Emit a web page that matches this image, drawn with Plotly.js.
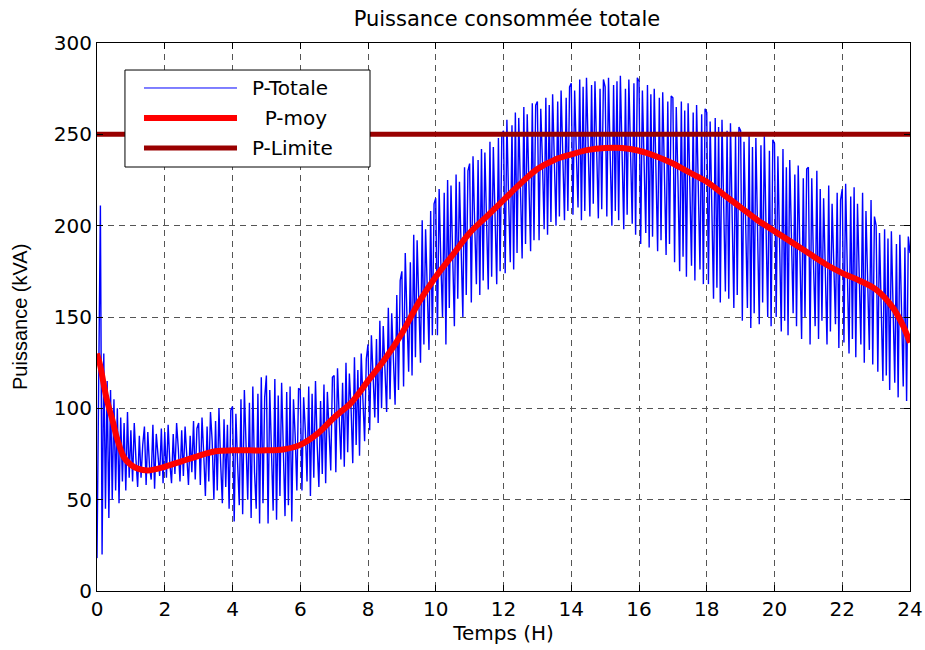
<!DOCTYPE html>
<html>
<head>
<meta charset="utf-8">
<script src="https://cdn.plot.ly/plotly-3.0.1.min.js"></script>
<style>html,body{margin:0;padding:0;background:#fff;}#chart{width:925px;height:650px;}</style>
</head>
<body>
<div id="chart"></div>
<script>
// P-Totale samples, one every 0.05 h (20 per hour)
const sampleStep = 0.05;
const pTotale = [
  18, 120, 211, 20, 130, 45, 115, 40, 110, 50, 105, 55, 100, 48, 95, 60, 92, 55, 98, 62,
  88, 60, 92, 72, 57, 85, 62, 80, 90, 58, 87, 68, 61, 91, 56, 86, 75, 63, 89, 59,
  87, 62, 91, 70, 59, 86, 64, 92, 78, 60, 88, 63, 90, 72, 58, 85, 65, 93, 61, 89,
  92, 58, 95, 75, 52, 90, 60, 98, 82, 50, 93, 55, 100, 70, 48, 94, 57, 91, 45, 99,
  101, 38, 97, 70, 47, 105, 42, 110, 85, 50, 103, 40, 112, 65, 45, 108, 37, 117, 48, 106,
  118, 37, 110, 80, 44, 116, 39, 107, 52, 114, 72, 41, 109, 47, 112, 38, 105, 85, 55, 111,
  110, 55, 106, 88, 60, 112, 52, 108, 62, 115, 80, 57, 104, 64, 113, 59, 109, 90, 66, 117,
  118, 65, 122, 95, 72, 114, 68, 125, 76, 119, 100, 70, 128, 80, 121, 74, 130, 105, 82, 127,
  135, 88, 140, 118, 95, 138, 92, 148, 100, 145, 125, 98, 155, 105, 152, 130, 102, 162, 110, 170,
  175, 112, 185, 150, 120, 180, 118, 195, 128, 192, 160, 125, 203, 135, 198, 170, 132, 208, 140, 212,
  215, 140, 220, 180, 150, 218, 135, 225, 155, 222, 190, 145, 228, 160, 224, 185, 150, 232, 162, 230,
  234, 158, 238, 200, 168, 236, 162, 242, 170, 240, 205, 165, 246, 172, 243, 210, 168, 248, 175, 250,
  252, 174, 258, 215, 180, 255, 176, 262, 185, 259, 225, 182, 265, 190, 261, 230, 186, 267, 192, 266,
  268, 192, 264, 235, 198, 270, 195, 266, 202, 272, 240, 200, 268, 205, 274, 238, 203, 270, 208, 276,
  278, 206, 274, 240, 210, 280, 203, 276, 208, 281, 245, 205, 277, 212, 279, 242, 204, 275, 209, 280,
  276, 205, 281, 238, 200, 277, 208, 279, 203, 282, 245, 198, 275, 206, 280, 235, 201, 278, 195, 281,
  279, 190, 274, 235, 196, 277, 188, 272, 194, 275, 230, 186, 270, 192, 273, 228, 184, 268, 190, 271,
  270, 180, 265, 225, 175, 268, 183, 263, 172, 267, 220, 178, 262, 170, 266, 215, 176, 261, 168, 264,
  262, 168, 257, 210, 160, 259, 166, 254, 158, 258, 205, 164, 252, 160, 256, 200, 155, 250, 162, 254,
  252, 148, 246, 200, 155, 250, 144, 243, 152, 248, 195, 146, 244, 158, 249, 190, 150, 241, 145, 247,
  245, 150, 238, 190, 142, 242, 148, 232, 140, 236, 185, 152, 228, 145, 233, 180, 138, 226, 150, 231,
  232, 135, 226, 180, 145, 230, 138, 220, 148, 215, 175, 135, 222, 142, 212, 170, 146, 218, 133, 214,
  220, 136, 223, 175, 130, 216, 138, 221, 128, 212, 170, 135, 218, 125, 208, 165, 132, 214, 124, 205,
  200, 120, 196, 155, 115, 198, 118, 193, 110, 197, 150, 114, 190, 106, 195, 145, 112, 188, 104, 194,
  185
];

// P-moy (smoothed mean)
const moyT = [0, 0.1, 0.2, 0.3, 0.45, 0.6, 0.8, 1.0, 1.2, 1.5, 1.8, 2.0, 2.5, 3.0, 3.5, 4.0, 4.5, 5.0, 5.5, 6.0, 6.5, 7.0, 7.5, 8.0, 8.5, 9.0, 9.5, 10.0, 10.5, 11.0, 11.5, 12.0, 12.5, 13.0, 13.5, 14.0, 14.5, 15.0, 15.5, 16.0, 16.5, 17.0, 17.5, 18.0, 18.5, 19.0, 19.5, 20.0, 20.5, 21.0, 21.5, 22.0, 22.5, 23.0, 23.5, 23.8, 24.0];
const moyV = [130, 123, 113, 104, 94, 83, 73, 69, 67, 66, 67, 68, 71, 74, 76.5, 77, 77, 77, 77.5, 80, 86, 95, 103, 115, 127, 141, 158, 172, 184, 196, 205, 214, 223, 231, 236, 239, 241.5, 242.5, 242.5, 241, 238, 234, 229, 224, 217, 210, 203, 197, 191, 185, 179, 174, 170, 165, 155, 145, 136];

// P-Limite
const limT = [0, 24];
const limV = [250, 250];

const legendNames = ["P-Totale", " P-moy", "P-Limite"];
const xTicks = [0, 2, 4, 6, 8, 10, 12, 14, 16, 18, 20, 22, 24];
const yTicks = [0, 50, 100, 150, 200, 250, 300];

const totT = pTotale.map((_, i) => +(i * sampleStep).toFixed(2));

const FONT = "DejaVu Sans, Arial, sans-serif";
const cBlue = "#0000ff", cRed = "#ff0000", cDark = "#990000";

const traces = [
  {x: totT, y: pTotale, type: "scatter", mode: "lines", line: {color: cBlue, width: 1.4}, name: legendNames[0], hoverinfo: "skip"},
  {x: moyT, y: moyV, type: "scatter", mode: "lines", line: {color: cRed, width: 6, shape: "spline", smoothing: 1}, name: legendNames[1]},
  {x: limT, y: limV, type: "scatter", mode: "lines", line: {color: cDark, width: 5}, name: legendNames[2]}
];

// legend box in paper coordinates
const lx0 = 0.0344, lx1 = 0.3358, ly0 = 0.7737, ly1 = 0.9507;
const sx0 = 0.0578, sx1 = 0.1722;
const rowY = [0.9179, 0.8631, 0.8084];
const rowColor = [cBlue, cRed, cDark];
const rowWidth = [1, 6, 5];
const textX = [0.1882, 0.1882, 0.1882];

const shapes = [{type: "rect", xref: "paper", yref: "paper", x0: lx0, x1: lx1, y0: ly0, y1: ly1,
  fillcolor: "#ffffff", line: {color: "#000000", width: 1}, layer: "above"}];
const annotations = [];
for (let i = 0; i < 3; i++) {
  shapes.push({type: "line", xref: "paper", yref: "paper", x0: sx0, x1: sx1, y0: rowY[i], y1: rowY[i],
    line: {color: rowColor[i], width: rowWidth[i]}, layer: "above"});
  annotations.push({xref: "paper", yref: "paper", x: textX[i], y: rowY[i], xanchor: "left", yanchor: "middle",
    text: legendNames[i].replace(" ", "&nbsp;&nbsp;"), showarrow: false, font: {family: FONT, size: 20, color: "#000"}});
}
// y-axis title
annotations.push({xref: "paper", yref: "paper", x: -0.0947, y: 0.5, xanchor: "center", yanchor: "middle",
  textangle: -90, text: "Puissance (kVA)", showarrow: false,
  font: {family: "Liberation Sans, Arial, sans-serif", size: 20, color: "#000"}});

const axisCommon = {
  showline: true, linecolor: "#000", linewidth: 1, mirror: "ticks",
  ticks: "inside", ticklen: 6, tickcolor: "#000", tickwidth: 1,
  showgrid: true, gridcolor: "#555", gridwidth: 1, griddash: "6px,5px",
  zeroline: false, tickfont: {family: FONT, size: 20, color: "#000"}
};

const layout = {
  width: 925, height: 650,
  margin: {l: 97, r: 15, t: 43, b: 59},
  paper_bgcolor: "#fff", plot_bgcolor: "#fff",
  showlegend: false,
  title: {text: "Puissance consommée totale", font: {family: FONT, size: 21, color: "#000"},
    x: 0.548, xanchor: "center", y: 1 - 19 / 650, yanchor: "middle", yref: "container"},
  xaxis: Object.assign({}, axisCommon, {range: [0, 24], tickvals: xTicks, ticktext: xTicks.map(String),
    title: {text: "Temps (H)", font: {family: FONT, size: 20, color: "#000"}, standoff: 4}}),
  yaxis: Object.assign({}, axisCommon, {range: [0, 300], tickvals: yTicks, ticktext: yTicks.map(String)}),
  shapes: shapes,
  annotations: annotations
};

Plotly.newPlot("chart", traces, layout, {displayModeBar: false, staticPlot: true});
</script>
</body>
</html>
